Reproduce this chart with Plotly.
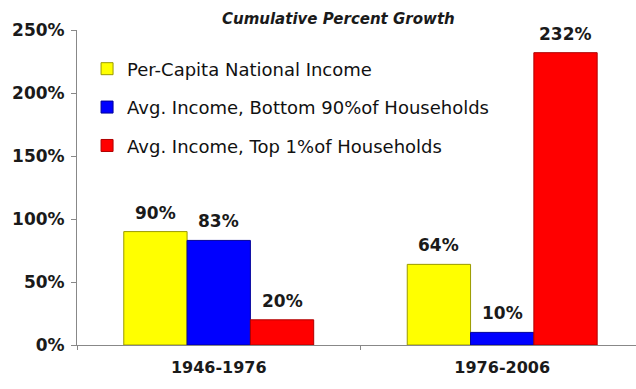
import plotly.graph_objects as go

categories = ["1946-1976", "1976-2006"]
series_names = [
    "Per-Capita National Income",
    "Avg. Income, Bottom 90%of Households",
    "Avg. Income, Top 1%of Households",
]
series_values = [
    [0.90, 0.64],
    [0.83, 0.10],
    [0.20, 2.32],
]
series_colors = ["#FFFF00", "#0000FF", "#FF0000"]
series_edges = ["#9A9A00", "#00009A", "#B00000"]
y_ticks = [0, 0.5, 1.0, 1.5, 2.0, 2.5]
y_tick_labels = ["0%", "50%", "100%", "150%", "200%", "250%"]

FONT = "DejaVu Sans, sans-serif"
BARGAP = 0.33
n_series = len(series_names)
bar_w = (1 - BARGAP) / n_series

fig = go.Figure()
for i, (name, vals, col, edge) in enumerate(zip(series_names, series_values, series_colors, series_edges)):
    fig.add_trace(go.Bar(
        x=categories, y=vals, name=name,
        marker=dict(color=col, line=dict(color=edge, width=1)),
        legendgroup=f"g{i}",
    ))
    for ci, v in enumerate(vals):
        fig.add_annotation(
            x=ci + (i - (n_series - 1) / 2) * bar_w, y=v,
            text=f"<b>{round(v*100)}%</b>", showarrow=False,
            yanchor="bottom", yshift=7,
            font=dict(family=FONT, size=17, color="#1a1a1a"),
        )

fig.update_layout(
    width=636, height=389,
    margin=dict(l=77, r=0, t=30, b=44),
    paper_bgcolor="white", plot_bgcolor="white",
    barmode="group", bargap=BARGAP, bargroupgap=0,
    font=dict(family=FONT, color="#1a1a1a"),
    title=dict(text="<b><i>Cumulative Percent Growth</i></b>", x=0.532, xanchor="center",
               y=0.953, yanchor="middle", font=dict(size=15, color="#1a1a1a")),
    showlegend=True,
    legend=dict(x=0.018, y=0.935, xanchor="left", yanchor="top",
                font=dict(size=18, color="#111111"), bgcolor="rgba(0,0,0,0)",
                traceorder="grouped", tracegroupgap=12, itemwidth=30),
    xaxis=dict(range=[-0.5, 1.472], showline=True, linecolor="#888888", linewidth=1,
               ticks="outside", ticklen=4, tickcolor="#888888", tickson="boundaries",
               ticklabelstandoff=8,
               tickfont=dict(size=16, family=FONT, color="#1a1a1a", weight="bold"),
               showgrid=False, zeroline=False),
    yaxis=dict(range=[0, 2.5], tickvals=y_ticks, ticktext=y_tick_labels,
               showline=True, linecolor="#888888", linewidth=1,
               ticks="outside", ticklen=5, tickcolor="#888888",
               ticklabelstandoff=3,
               tickfont=dict(size=17, family=FONT, color="#1a1a1a", weight="bold"),
               showgrid=False, zeroline=False),
)

fig.write_html("out.html")
